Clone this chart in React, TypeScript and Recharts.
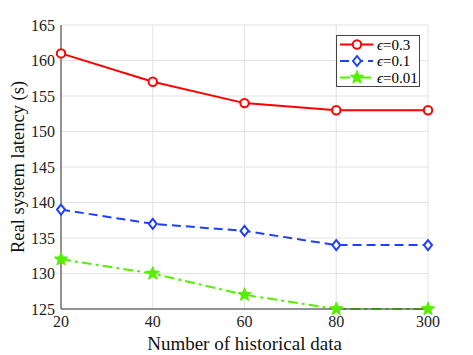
import React from "react";
import { LineChart, Line, XAxis, YAxis, CartesianGrid } from "recharts";

const categories = ["20", "40", "60", "80", "300"];
const eps03 = [161, 157, 154, 153, 153];
const eps01 = [139, 137, 136, 134, 134];
const eps001 = [132, 130, 127, 125, 125];
const yTicks = [125, 130, 135, 140, 145, 150, 155, 160, 165];

const RED = "#ff0000";
const BLUE = "#1f3fff";
const GREEN = "#55f000";
const BLUE_DASH = "9 5";
const GREEN_DASH = "10 4 3 4";
const FONT = "'Liberation Serif', 'DejaVu Serif', serif";

const data = categories.map((c, i) => ({
  cat: c,
  a: eps03[i],
  b: eps01[i],
  c: eps001[i],
}));

const Circle = ({ cx, cy }: any) =>
  cx == null ? null : (
    <circle cx={cx} cy={cy} r={4.2} fill="#fff" stroke={RED} strokeWidth={2} />
  );

const Diamond = ({ cx, cy }: any) =>
  cx == null ? null : (
    <polygon
      points={`${cx},${cy - 5} ${cx + 4},${cy} ${cx},${cy + 5} ${cx - 4},${cy}`}
      fill="#fff"
      stroke={BLUE}
      strokeWidth={2}
    />
  );

function starPoints(cx: number, cy: number, R: number, r: number) {
  const pts: string[] = [];
  for (let k = 0; k < 10; k++) {
    const rad = k % 2 === 0 ? R : r;
    const ang = -Math.PI / 2 + (k * Math.PI) / 5;
    pts.push(`${cx + rad * Math.cos(ang)},${cy + rad * Math.sin(ang)}`);
  }
  return pts.join(" ");
}

const Star = ({ cx, cy }: any) =>
  cx == null ? null : (
    <polygon points={starPoints(cx, cy, 7, 3)} fill={GREEN} stroke={GREEN} strokeWidth={1} />
  );

const legendItems = [
  { label: "0.3", color: RED, dash: undefined, Mark: Circle },
  { label: "0.1", color: BLUE, dash: BLUE_DASH, Mark: Diamond },
  { label: "0.01", color: GREEN, dash: GREEN_DASH, Mark: Star },
];

// legend drawn as an overlay so it does not eat plot space
const LegendBox = () => (
  <svg width={84} height={52} style={{ display: "block" }}>
    <rect x={0.5} y={0.5} width={83} height={51} fill="#fff" stroke="#444" strokeWidth={1} />
    {legendItems.map((it, i) => {
      const y = 9.5 + i * 16.5;
      return (
        <g key={i}>
          <line
            x1={4}
            x2={37}
            y1={y}
            y2={y}
            stroke={it.color}
            strokeWidth={2}
            strokeDasharray={it.dash}
          />
          <it.Mark cx={21} cy={y} />
          <text x={41} y={y + 5} fontSize={15} fill="#000">
            <tspan fontStyle="italic">ϵ</tspan>=<tspan>{it.label}</tspan>
          </text>
        </g>
      );
    })}
  </svg>
);

export default function App() {
  return (
    <div style={{ position: "absolute", left: 0, top: 0, background: "#fff", width: 473, height: 355 }}>
      <style>{`svg text, svg tspan { font-family: ${FONT}; }`}</style>
      <LineChart
        width={473}
        height={355}
        data={data}
        margin={{ top: 25, right: 45, left: 0, bottom: 0 }}
      >
        <CartesianGrid stroke="#e3e3e3" strokeWidth={1} />
        <XAxis
          dataKey="cat"
          height={46}
          padding={{ left: 0, right: 0 }}
          tick={{ fill: "#222", fontSize: 16 }}
          axisLine={{ stroke: "#333" }}
          tickLine={false}
          tickMargin={1}
          label={{
            value: "Number of historical data",
            position: "insideBottom",
            offset: 5,
            fill: "#111",
            fontSize: 19,
          }}
        />
        <YAxis
          width={61}
          domain={[125, 165]}
          ticks={yTicks}
          interval={0}
          tick={{ fill: "#222", fontSize: 16 }}
          axisLine={{ stroke: "#333" }}
          tickLine={false}
          tickMargin={0}
          label={{
            value: "Real system latency (s)",
            angle: -90,
            position: "insideLeft",
            offset: 17,
            style: { textAnchor: "middle" },
            fill: "#111",
            fontSize: 18.5,
          }}
        />
        <Line
          dataKey="c"
          stroke={GREEN}
          strokeWidth={2}
          strokeDasharray={GREEN_DASH}
          dot={<Star />}
          isAnimationActive={false}
        />
        <Line
          dataKey="b"
          stroke={BLUE}
          strokeWidth={2}
          strokeDasharray={BLUE_DASH}
          dot={<Diamond />}
          isAnimationActive={false}
        />
        <Line
          dataKey="a"
          stroke={RED}
          strokeWidth={2}
          dot={<Circle />}
          isAnimationActive={false}
        />
      </LineChart>
      <div style={{ position: "absolute", left: 336, top: 35 }}>
        <LegendBox />
      </div>
    </div>
  );
}
